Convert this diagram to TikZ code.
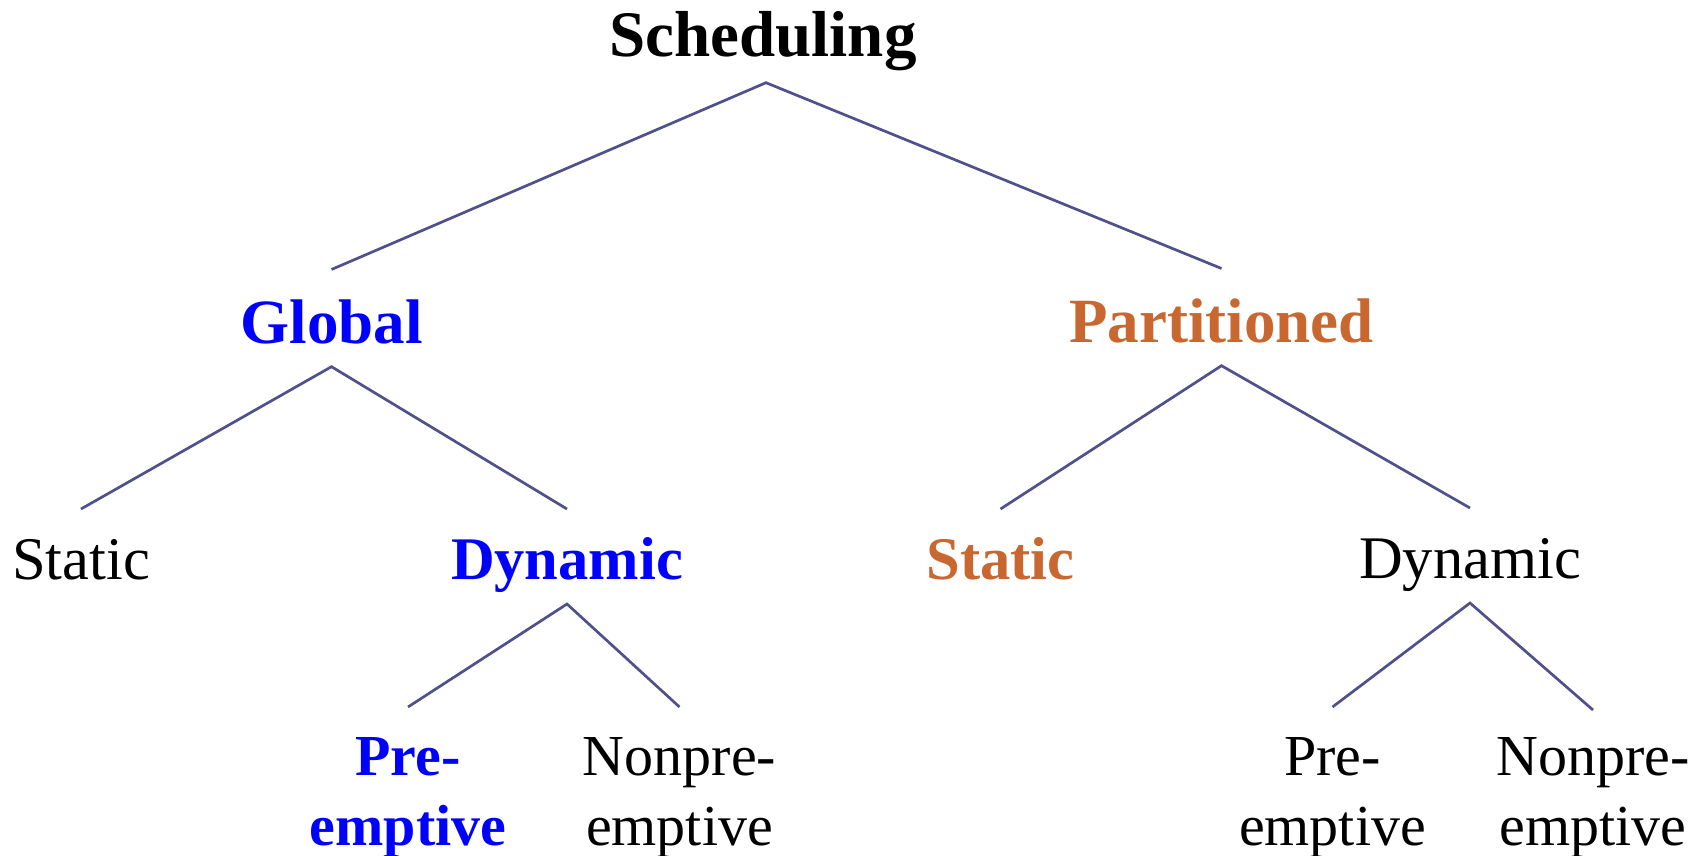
\documentclass[tikz,border=0pt]{standalone}
\usepackage{fontspec}
\setmainfont{Liberation Serif}
\definecolor{treeline}{RGB}{80,80,140}
\definecolor{partorange}{RGB}{200,103,48}
\definecolor{globalblue}{RGB}{0,0,255}

\begin{document}
\begin{tikzpicture}[x=0.5pt,y=-0.5pt,
  every node/.style={inner sep=0pt, outer sep=0pt},
  rootlbl/.style={anchor=base, font=\fontsize{32.5}{39}\selectfont\bfseries,
    text height=22pt, text depth=12.85pt},
  lvlone/.style={anchor=base, font=\fontsize{31.5}{38}\selectfont\bfseries,
    text height=36.75pt, text depth=11.85pt},
  lvltwo/.style={anchor=base, font=\fontsize{30.25}{36}\selectfont,
    text height=35pt, text depth=12.5pt},
  lvlthree/.style={anchor=base, font=\fontsize{29}{35}\selectfont,
    text height=34pt, text depth=0pt},
  branch/.style={draw=treeline, line width=1.35pt}]

  \useasboundingbox (0,0) rectangle (1704,856);

  % root
  \node[rootlbl] (sched) at (763,57) {Scheduling};

  % first level
  \node[lvlone, text=globalblue] (global) at (331.5,343) {Global};
  \node[lvlone, text=partorange] (part) at (1221.5,342) {Partitioned};

  % second level
  \node[lvltwo] (gstatic) at (81,579) {Static};
  \node[lvltwo, text=globalblue] (gdyn) at (567,579) {\bfseries Dynamic};
  \node[lvltwo, text=partorange] (pstatic) at (1000.5,579) {\bfseries Static};
  \node[lvltwo] (pdyn) at (1470,578) {Dynamic};

  % third level
  \node[lvlthree, text=globalblue] (gpre) at (408,775)
    {\bfseries\begin{tabular}[t]{@{}c@{}}Pre-\\emptive\end{tabular}};
  \node[lvlthree] (gnon) at (679.5,775)
    {\begin{tabular}[t]{@{}c@{}}Nonpre-\\emptive\end{tabular}};
  \node[lvlthree] (ppre) at (1332.5,775)
    {\begin{tabular}[t]{@{}c@{}}Pre-\\emptive\end{tabular}};
  \node[lvlthree] (pnon) at (1593,775)
    {\begin{tabular}[t]{@{}c@{}}Nonpre-\\emptive\end{tabular}};

  % branches
  \draw[branch] (global.north) -- ([xshift=1.5pt]sched.south) -- (part.north);
  \draw[branch] (gstatic.north) -- (global.south) -- (gdyn.north);
  \draw[branch] (pstatic.north) -- (part.south) -- (pdyn.north);
  \draw[branch] (gpre.north) -- (gdyn.south) -- (gnon.north);
  \draw[branch] (ppre.north) -- (pdyn.south) -- ([yshift=-1.5pt]pnon.north);
\end{tikzpicture}
\end{document}
